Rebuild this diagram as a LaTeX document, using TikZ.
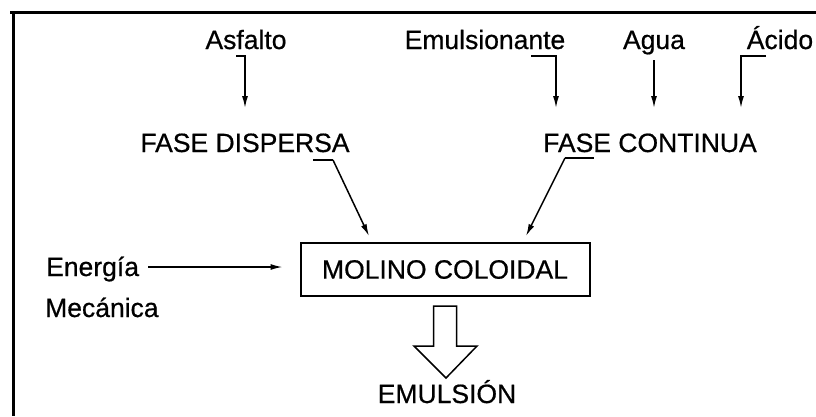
\documentclass[tikz,border=0pt]{standalone}
\usepackage{fontspec}
\setmainfont{Liberation Sans}[FakeBold=0.6]
\usetikzlibrary{arrows.meta}
\begin{document}
\begin{tikzpicture}[x=1pt,y=-1pt,
  lbl/.style={inner sep=0pt,font=\fontsize{26.5}{30}\selectfont},
  arr/.style={line width=1.5pt,-{Latex[length=12pt,width=6pt]}},
  boxst/.style={draw,line width=2pt,inner sep=0pt,minimum width=289pt,minimum height=53pt,font=\fontsize{26.5}{30}\selectfont}]
\useasboundingbox (0,0) rectangle (816,416);
% frame
\draw[line width=3pt] (10,12) -- (816,12);
\draw[line width=3pt] (13,11) -- (13,416);
% labels
\node[lbl,anchor=base] (asf) at (246,49) {Asfalto};
\node[lbl,anchor=base] (emu) at (485,49) {Emulsionante};
\node[lbl,anchor=base] (agua) at (654,49) {Agua};
\node[lbl,anchor=base] (acido) at (780,49) {Ácido};
\node[lbl,anchor=base] (fd) at (245,152) {FASE DISPERSA};
\node[lbl,anchor=base] (fc) at (650,152) {FASE CONTINUA};
\node[boxst] (mol) at (445,269.5) {MOLINO COLOIDAL};
\node[lbl,anchor=base west] (ene) at (46,276) {Energía};
\node[lbl,anchor=base west] (mec) at (45,317) {Mecánica};
\node[lbl,anchor=base] (emul) at (447,403) {EMULSIÓN};
% input arrows
\coordinate (a1) at (236,56);
\coordinate (b1) at (245,108);
\coordinate (a2) at (531,56);
\coordinate (b2) at (556,108);
\coordinate (a3) at (654,60);
\coordinate (b3) at (654,108);
\coordinate (a4) at (766,56);
\coordinate (b4) at (741,108);
\draw[arr] (a1) -| (b1);
\draw[arr] (a2) -| (b2);
\draw[arr] (a3) -- (b3);
\draw[arr] (a4) -| (b4);
% phase arrows
\coordinate (d0) at (313,160);
\coordinate (d1) at (333,160);
\coordinate (c0) at (565,158);
\coordinate (c1) at (594,158);
\draw[line width=1.5pt] (d0) -- (d1);
\draw[arr] (d1) -- ([shift={(-76,-6)}]mol.north);
\draw[line width=1.5pt] (c0) -- (c1);
\draw[arr] (c0) -- ([shift={(81,-6)}]mol.north);
% energy arrow
\coordinate (e0) at (148,267);
\draw[arr] (e0) -- ([shift={(-17,-2.5)}]mol.west);
% hollow arrow
\draw[line width=1.5pt,line join=miter]
  ([shift={(-11.5,9)}]mol.south) -- ([shift={(11.5,9)}]mol.south)
  -- ([shift={(11.5,49)}]mol.south) -- ([shift={(32,49)}]mol.south)
  -- ([shift={(1,81)}]mol.south) -- ([shift={(-31,49)}]mol.south)
  -- ([shift={(-11.5,49)}]mol.south) -- cycle;
\end{tikzpicture}
\end{document}
